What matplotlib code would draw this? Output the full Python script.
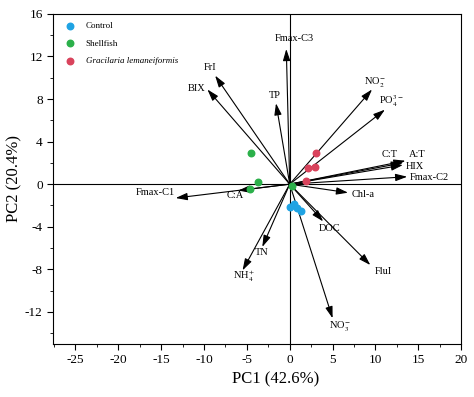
import matplotlib.pyplot as plt

plt.rcParams['font.family'] = ['Liberation Serif', 'DejaVu Serif']
plt.rcParams['mathtext.fontset'] = 'stix'
plt.rcParams['axes.unicode_minus'] = False

# loadings (arrow tips)
var_names = ['Fmax-C3', 'FrI', 'BIX', 'TP', r'NO$_2^{-}$', r'PO$_4^{3-}$',
             'C:T', 'A:T', 'HIX', 'Fmax-C2', 'Chl-a', 'DOC', 'FluI',
             r'NO$_3^{-}$', 'TN', r'NH$_4^{+}$', 'C:A', 'Fmax-C1']
load_x = [-0.4, -8.7, -9.6, -1.6, 9.6, 11.1, 13.2, 13.5, 13.2, 13.7,
          6.8, 3.9, 9.4, 5.0, -3.2, -5.5, -6.0, -13.3]
load_y = [12.7, 10.2, 8.9, 7.6, 8.9, 7.0, 2.0, 2.2, 1.8, 0.7,
          -0.8, -3.5, -7.6, -12.6, -5.9, -8.1, -0.6, -1.3]

# where each label sits
label_x = [0.5, -9.3, -10.9, -1.7, 9.9, 11.9, 11.7, 14.9, 14.6, 16.3,
           8.6, 4.7, 10.9, 5.8, -3.3, -5.4, -6.4, -15.7]
label_y = [13.7, 11.0, 9.0, 8.3, 9.6, 7.8, 2.8, 2.8, 1.7, 0.6,
           -1.0, -4.2, -8.2, -13.3, -6.4, -8.7, -1.1, -0.8]

# sample scores
control_x = [0.0, 0.5, 0.9, 1.3]
control_y = [-2.1, -1.9, -2.2, -2.5]
shellfish_x = [-4.5, -3.7, -4.6, 0.3]
shellfish_y = [2.9, 0.2, -0.5, -0.2]
gracilaria_x = [3.1, 2.1, 3.0, 1.9]
gracilaria_y = [2.9, 1.5, 1.6, 0.3]

fig, ax = plt.subplots(figsize=(4.74, 3.97), dpi=100)
fig.subplots_adjust(left=0.112, right=0.973, bottom=0.134, top=0.965)

ax.axhline(0, color='k', lw=0.8, zorder=1)
ax.axvline(0, color='k', lw=0.8, zorder=1)

ax.scatter(control_x, control_y, s=22, color='#1fa3e3', label='Control', zorder=3)
ax.scatter(shellfish_x, shellfish_y, s=22, color='#2bb04a', label='Shellfish', zorder=3)
ax.scatter(gracilaria_x, gracilaria_y, s=22, color='#d9435c',
           label='Gracilaria lemaneiformis', zorder=3)

for name, x, y, lx, ly in zip(var_names, load_x, load_y, label_x, label_y):
    ax.annotate('', xy=(x, y), xytext=(0, 0),
                arrowprops=dict(arrowstyle='-|>,head_length=0.7,head_width=0.22',
                                color='k', lw=0.8, shrinkA=0, shrinkB=0),
                zorder=2)
    ax.text(lx, ly, name, fontsize=7.5, ha='center', va='center', zorder=4)

ax.set_xlim(-27.6, 20)
ax.set_ylim(-15, 16)
ax.set_xticks(range(-25, 21, 5))
ax.set_xticks([v * 2.5 for v in range(-11, 9)], minor=True)
ax.set_yticks(range(-12, 17, 4))
ax.set_yticks(range(-14, 17, 2), minor=True)
ax.tick_params(labelsize=9.5, direction='out', length=4)
ax.tick_params(which='minor', length=2.5)
ax.set_xlabel('PC1 (42.6%)', fontsize=12)
ax.set_ylabel('PC2 (20.4%)', fontsize=12)
ax.xaxis.set_label_coords(0.545, -0.085)
ax.yaxis.set_label_coords(-0.074, 0.5)

leg = ax.legend(loc='upper left', frameon=False, fontsize=6.5, scatterpoints=1,
                handletextpad=0.7, borderaxespad=0.5, labelspacing=1.0,
                handlelength=2.0)
leg.get_texts()[2].set_style('italic')

plt.savefig('out.png', dpi=100)
